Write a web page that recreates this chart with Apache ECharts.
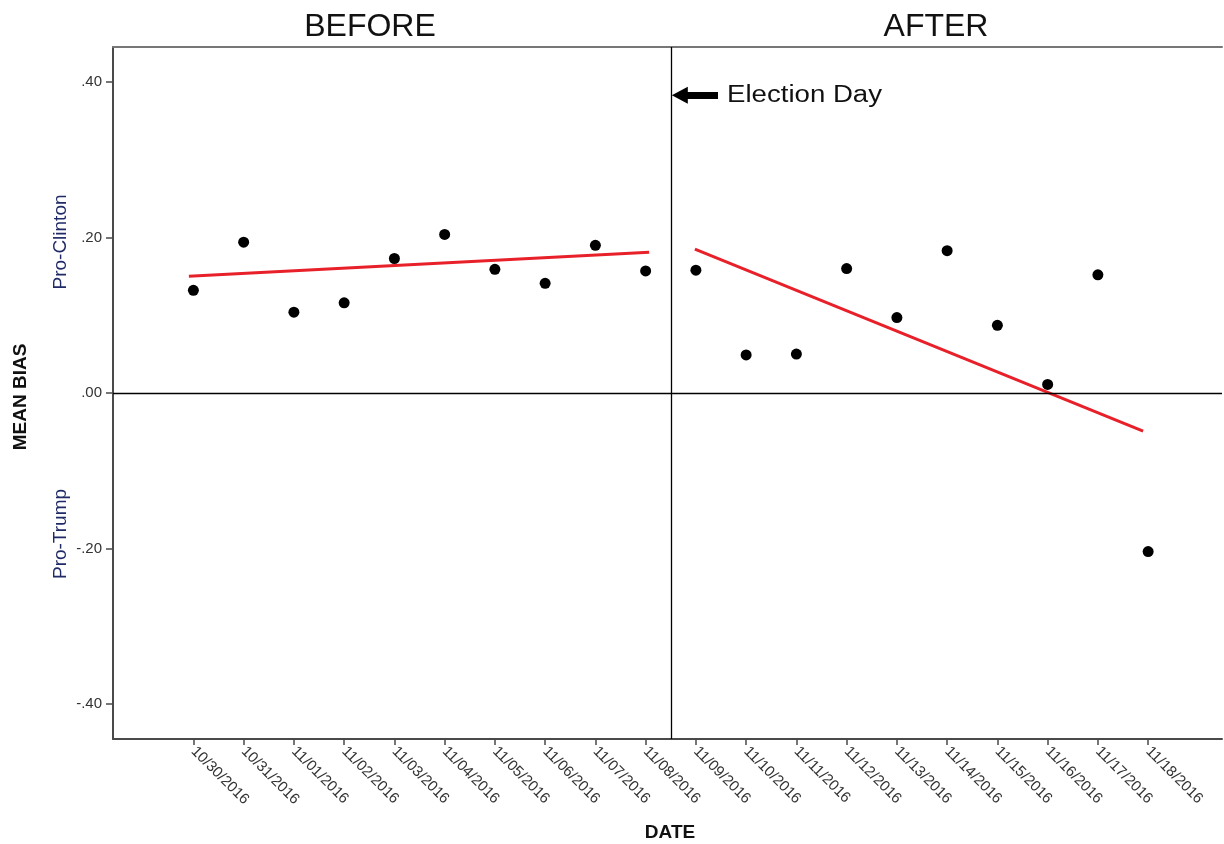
<!DOCTYPE html>
<html>
<head>
<meta charset="utf-8">
<script src="https://cdn.jsdelivr.net/npm/echarts@6/dist/echarts.min.js"></script>
<style>
  html, body { margin: 0; padding: 0; background: #fff; }
  #chart { width: 1224px; height: 844px; }
</style>
</head>
<body>
<div id="chart"></div>
<script>
// ---------- data ----------
const dates = ['10/30/2016','10/31/2016','11/01/2016','11/02/2016','11/03/2016',
               '11/04/2016','11/05/2016','11/06/2016','11/07/2016','11/08/2016',
               '11/09/2016','11/10/2016','11/11/2016','11/12/2016','11/13/2016',
               '11/14/2016','11/15/2016','11/16/2016','11/17/2016','11/18/2016'];
const biasBefore = [0.132, 0.194, 0.104, 0.116, 0.173, 0.204, 0.159, 0.141, 0.190, 0.157];
const biasAfter  = [0.158, 0.049, 0.050, 0.160, 0.097, 0.183, 0.087, 0.011, 0.152, -0.204];
const fitBeforeX = [-0.09, 9.07];
const fitBeforeY = [0.150, 0.181];
const fitAfterX  = [9.98, 18.9];
const fitAfterY  = [0.185, -0.049];
const electionDayX = 9.5;
const yTicks = [-0.4, -0.2, 0, 0.2, 0.4];
const panelTitles = ['BEFORE', 'AFTER'];

// ---------- build ----------
const nBefore = biasBefore.length;
const beforePts = biasBefore.map((v, i) => [i, v]);
const afterPts = biasAfter.map((v, i) => [i + nBefore, v]);
const xTicks = dates.map((d, i) => i);

const fmtY = v => {
  if (Math.abs(v) < 1e-9) return '.00';
  return (v < 0 ? '-' : '') + Math.abs(v).toFixed(2).replace(/^0/, '');
};

const chart = echarts.init(document.getElementById('chart'), null, { renderer: 'canvas' });
const FONT = 'Liberation Sans, Arial, sans-serif';
const axisCol = '#4a4a4a';

chart.setOption({
  animation: false,
  backgroundColor: '#fff',
  grid: { left: 113, right: 2, top: 47, bottom: 105 },
  xAxis: [{
    type: 'value', min: -1.6, max: 20.47,
    splitLine: { show: false },
    axisLine: { show: true, onZero: false, lineStyle: { color: axisCol, width: 2 } },
    axisTick: { show: true, length: 6, customValues: xTicks, lineStyle: { color: axisCol, width: 1.5 } },
    axisLabel: {
      customValues: xTicks, rotate: -45, margin: 10,
      fontFamily: FONT, fontSize: 15, color: '#333',
      formatter: v => dates[Math.round(v)] || ''
    }
  }, {
    type: 'value', position: 'top', min: -1.6, max: 20.47,
    splitLine: { show: false },
    axisLine: { show: true, onZero: false, lineStyle: { color: '#777', width: 2 } },
    axisTick: { show: false }, axisLabel: { show: false }
  }],
  yAxis: {
    type: 'value', min: -0.445, max: 0.445,
    splitLine: { show: false },
    axisLine: { show: true, onZero: false, lineStyle: { color: axisCol, width: 2 } },
    axisTick: { show: true, length: 7, customValues: yTicks, lineStyle: { color: axisCol, width: 1.5 } },
    axisLabel: { customValues: yTicks, margin: 11, fontFamily: FONT, fontSize: 15, color: '#333', formatter: fmtY }
  },
  series: [
    {
      name: 'refLines', type: 'line', data: [], xAxisIndex: 0,
      markLine: {
        silent: true, symbol: 'none', animation: false,
        label: { show: false },
        lineStyle: { color: '#000', width: 1.3, type: 'solid' },
        data: [{ yAxis: 0 }, { xAxis: electionDayX }]
      }
    },
    {
      name: 'arrow', type: 'line', data: [],
      markLine: {
        silent: true, animation: false,
        symbol: ['none', 'triangle'], symbolSize: [17, 16],
        label: { show: false },
        lineStyle: { color: '#000', width: 7, type: 'solid', opacity: 1 },
        data: [[{ coord: [10.44, 0.383] }, { coord: [9.68, 0.383] }]]
      }
    },
    {
      name: 'fitBefore', type: 'line', symbol: 'none',
      data: fitBeforeX.map((x, i) => [x, fitBeforeY[i]]),
      lineStyle: { color: '#e8202a', width: 3 }, z: 3
    },
    {
      name: 'fitAfter', type: 'line', symbol: 'none',
      data: fitAfterX.map((x, i) => [x, fitAfterY[i]]),
      lineStyle: { color: '#e8202a', width: 3 }, z: 3
    },
    {
      name: 'before', type: 'scatter', data: beforePts,
      symbolSize: 11, itemStyle: { color: '#000', opacity: 1 }, z: 4
    },
    {
      name: 'after', type: 'scatter', data: afterPts,
      symbolSize: 11, itemStyle: { color: '#000', opacity: 1 }, z: 4
    }
  ]
});

// ---------- text annotations ----------
const labelPos = chart.convertToPixel({ gridIndex: 0 }, [10.62, 0.382]);
chart.setOption({
  graphic: [
    { type: 'text', x: 370, y: 27, style: { text: panelTitles[0], font: '32px ' + FONT, fill: '#111', textAlign: 'center', textVerticalAlign: 'middle' } },
    { type: 'text', x: 936, y: 27, style: { text: panelTitles[1], font: '32px ' + FONT, fill: '#111', textAlign: 'center', textVerticalAlign: 'middle' } },
    { type: 'text', x: labelPos[0], y: labelPos[1], scaleX: 1.2,
      style: { text: 'Election Day', font: '23px ' + FONT, fill: '#111', textAlign: 'left', textVerticalAlign: 'middle' } },
    { type: 'text', x: 21, y: 397, rotation: Math.PI / 2,
      style: { text: 'MEAN BIAS', font: 'bold 19px ' + FONT, fill: '#111', textAlign: 'center', textVerticalAlign: 'middle' } },
    { type: 'text', x: 61, y: 242, rotation: Math.PI / 2,
      style: { text: 'Pro-Clinton', font: '19px ' + FONT, fill: '#1f2a66', textAlign: 'center', textVerticalAlign: 'middle' } },
    { type: 'text', x: 61, y: 534, rotation: Math.PI / 2,
      style: { text: 'Pro-Trump', font: '19px ' + FONT, fill: '#1f2a66', textAlign: 'center', textVerticalAlign: 'middle' } },
    { type: 'text', x: 670, y: 833, style: { text: 'DATE', font: 'bold 19px ' + FONT, fill: '#111', textAlign: 'center', textVerticalAlign: 'middle' } }
  ]
});
</script>
</body>
</html>
